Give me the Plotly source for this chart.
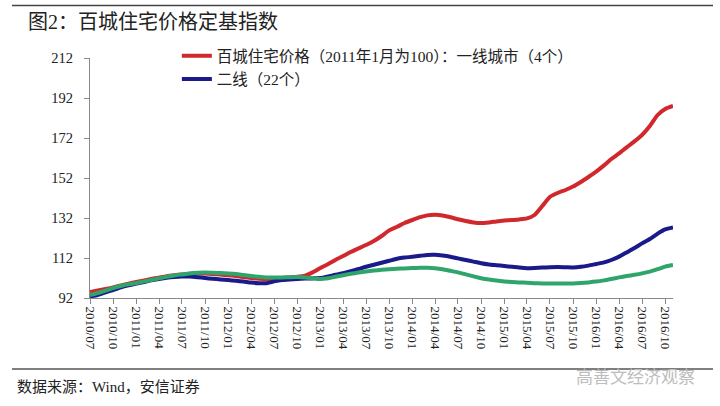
import plotly.graph_objects as go
import pandas as pd

months = pd.date_range("2010-07-01", "2016-11-01", freq="MS")

tier1 = [95, 95.8, 96.5, 97.3, 98.3, 99.2,
         100, 100.8, 101.5, 102.2, 102.9, 103.4, 103.8, 104.1, 104.2, 104.2, 104.0, 103.7,
         103.4, 103.0, 102.5, 102.0, 101.6, 101.4, 101.6, 102.0, 102.3, 102.6, 103.2, 104.8,
         107, 109, 111, 113, 115, 116.8, 118.5, 120.5, 123, 125.8, 127.6, 129.5,
         131, 132.4, 133.3, 133.6, 133.3, 132.4, 131.4, 130.5, 129.8, 129.5, 129.8, 130.3,
         130.7, 131, 131.3, 131.8, 133.5, 138, 142.5, 144.5, 146, 147.7, 150, 152.5,
         155.2, 158.3, 161.5, 164.3, 167.3, 170.3, 173.5, 178, 183.5, 186.5, 188]

tier2 = [92.8, 93.5, 94.8, 96, 97.3, 98.3,
         99.2, 100, 100.8, 101.5, 102.1, 102.5, 102.7, 102.7, 102.4, 102, 101.6, 101.3,
         101, 100.6, 100.2, 99.7, 99.4, 99.4, 100.3, 101, 101.3, 101.5, 101.7, 101.8,
         102, 102.8, 103.6, 104.4, 105.4, 106.5, 107.6, 108.6, 109.6, 110.6, 111.6, 112.2,
         112.6, 113.1, 113.5, 113.6, 113.2, 112.6, 111.8, 111, 110.2, 109.4, 108.8, 108.4,
         108, 107.6, 107.2, 106.9, 107, 107.2, 107.4, 107.5, 107.4, 107.3, 107.6, 108.2,
         109, 109.8, 111, 112.7, 114.8, 117, 119.3, 121.5, 124.2, 126.3, 127.3]

tier3 = [93.5, 94.5, 95.7, 97, 98, 98.8,
         99.5, 100.3, 101, 101.8, 102.6, 103.3, 103.8, 104.3, 104.6, 104.7, 104.6, 104.5,
         104.3, 104, 103.5, 103, 102.6, 102.3, 102.2, 102.3, 102.4, 102.5, 102.3, 101.9,
         101.5, 101.9, 102.6, 103.4, 104.1, 104.7, 105.2, 105.7, 106.1, 106.4, 106.6, 106.8,
         107, 107.1, 107.1, 106.9, 106.4, 105.6, 104.8, 103.8, 102.8, 101.9, 101.2, 100.7,
         100.3, 100, 99.8, 99.6, 99.4, 99.3, 99.3, 99.3, 99.3, 99.3, 99.5, 99.8,
         100.2, 100.8, 101.5, 102.3, 103, 103.6, 104.3, 105.2, 106.4, 107.7, 108.5]

name1 = "百城住宅价格（2011年1月为100）：一线城市（4个）"
name2 = "二线（22个）"
name3 = "三线"

x_ticks = pd.date_range("2010-07-01", "2016-10-01", freq="3MS")
y_ticks = [92, 112, 132, 152, 172, 192, 212]

FONT = "Liberation Serif, Noto Sans CJK SC, serif"

fig = go.Figure()
fig.add_trace(go.Scatter(x=months, y=tier1, mode="lines", name=name1,
                         line=dict(color="#D0282C", width=4, shape="spline", smoothing=0.6)))
fig.add_trace(go.Scatter(x=months, y=tier2, mode="lines", name=name2,
                         line=dict(color="#1A1A8A", width=4, shape="spline", smoothing=0.6)))
fig.add_trace(go.Scatter(x=months, y=tier3, mode="lines", name=name3, showlegend=False,
                         line=dict(color="#30A56B", width=4, shape="spline", smoothing=0.6)))

PW, PH = 583, 240

fig.update_layout(
    width=720, height=406,
    margin=dict(l=90, r=47, t=58, b=108),
    paper_bgcolor="white", plot_bgcolor="white",
    font=dict(family=FONT, size=14, color="#222"),
    showlegend=True,
    legend=dict(x=0.149, y=1.078, xanchor="left", yanchor="top",
                bgcolor="rgba(0,0,0,0)",
                font=dict(size=15.5, family=FONT, color="#222"),
                tracegroupgap=0, itemwidth=30),
    xaxis=dict(type="date", range=[months[0], months[-1]],
               tickvals=list(x_ticks), tickformat="%Y/%m", tickangle=90,
               showgrid=False, zeroline=False, showline=True, linecolor="#888", linewidth=1,
               ticks="outside", ticklen=5, tickcolor="#888",
               tickfont=dict(size=13, family=FONT, color="#222")),
    yaxis=dict(range=[92, 212], tickvals=y_ticks, showgrid=False, zeroline=False,
               showline=True, linecolor="#888", linewidth=1,
               ticks="outside", ticklen=5, tickcolor="#888", ticklabelstandoff=8,
               tickfont=dict(size=14.5, family=FONT, color="#222")),
)

# rules
fig.add_shape(type="line", xref="paper", yref="paper", layer="above",
              x0=-78/PW, x1=623/PW, y0=292.5/PH, y1=292.5/PH,
              line=dict(color="#444", width=1.5))
fig.add_shape(type="line", xref="paper", yref="paper", layer="above",
              x0=-78/PW, x1=623/PW, y0=-71/PH, y1=-71/PH,
              line=dict(color="#555", width=1.5))

fig.add_annotation(text="图2：百城住宅价格定基指数", xref="paper", yref="paper",
                   x=-64/PW, y=276/PH, xanchor="left", yanchor="middle",
                   showarrow=False, font=dict(size=20, family=FONT, color="#222"))
fig.add_annotation(text="数据来源：Wind，安信证券", xref="paper", yref="paper",
                   x=-75/PW, y=-89/PH, xanchor="left", yanchor="middle",
                   showarrow=False, font=dict(size=15, family=FONT, color="#222"))
fig.add_annotation(text="高善文经济观察", xref="paper", yref="paper",
                   x=607/PW, y=-77/PH, xanchor="right", yanchor="middle",
                   showarrow=False, font=dict(size=17, family="Noto Sans CJK SC", color="#bdbdbd"))

fig.write_html("out.html", config={"displayModeBar": False},
               post_script="document.body.style.margin='0';")
